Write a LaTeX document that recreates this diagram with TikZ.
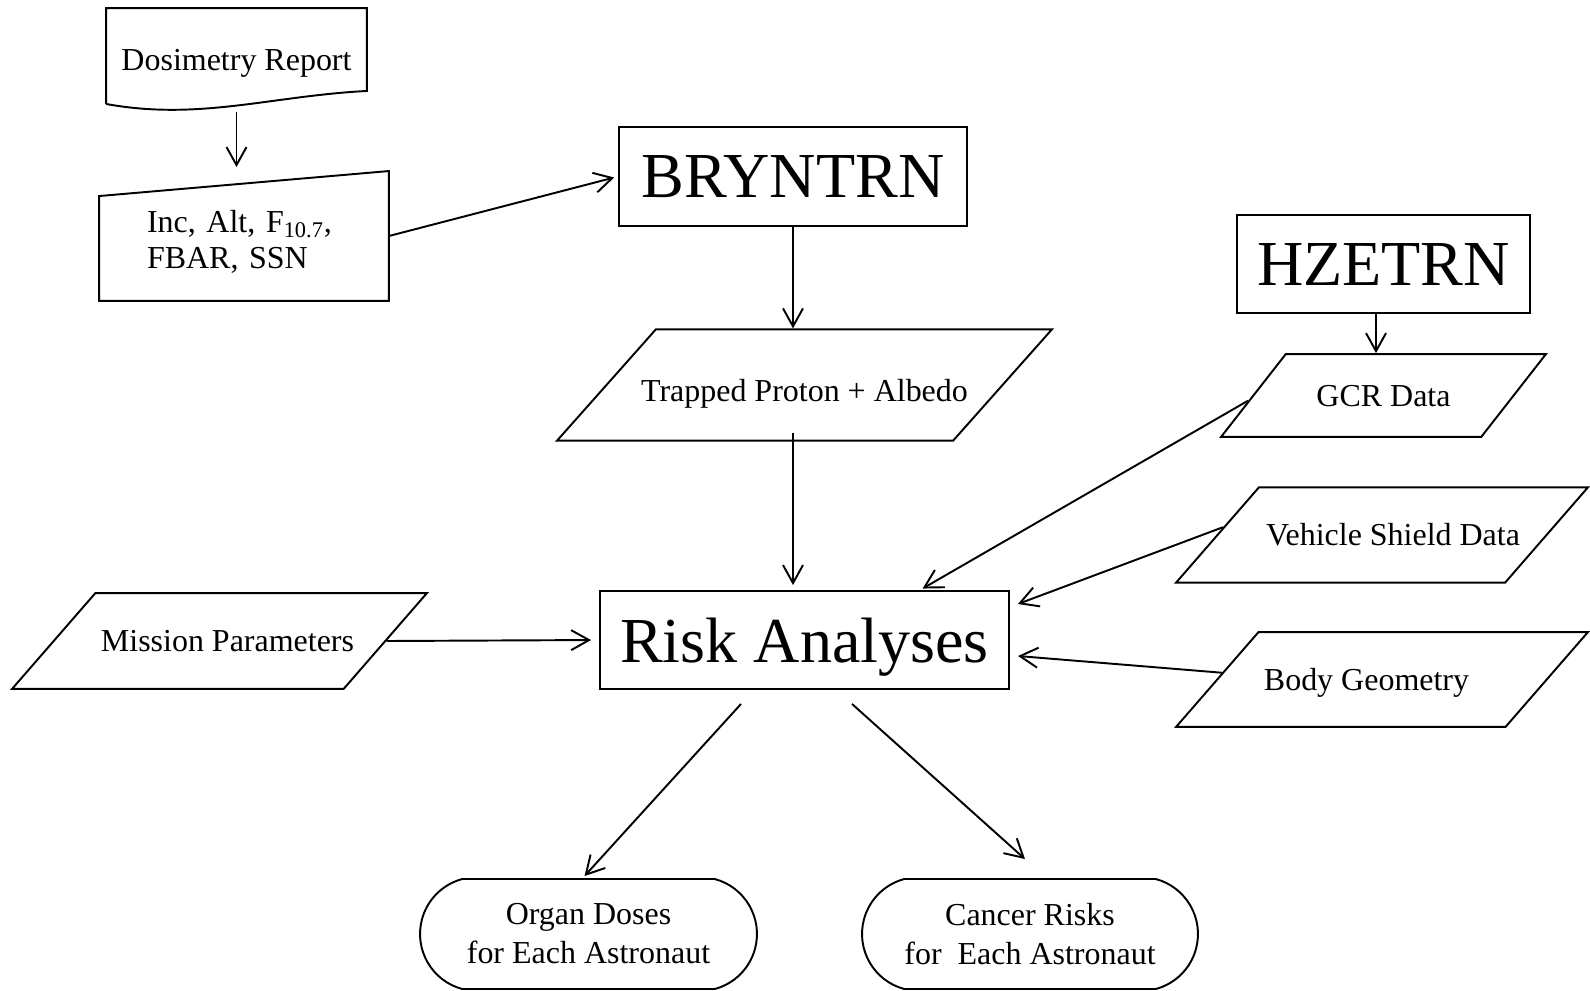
\documentclass[tikz,border=0pt]{standalone}
\usepackage{fontspec}
\setmainfont{Liberation Serif}
\usetikzlibrary{calc,arrows.meta,shapes.geometric,shapes.misc}

\tikzset{
	txt/.style={font=\fontsize{18.2}{20.5}\selectfont},
	prog/.style={draw, rectangle, inner sep=0pt, text depth=0pt, font=\fontsize{36.5}{40}\selectfont},
	data/.style={draw, trapezium, trapezium left angle=49, trapezium right angle=131, trapezium stretches body, inner xsep=-1cm, text height=12pt, text depth=0pt, txt},
	result/.style={draw, rounded rectangle, rounded rectangle arc length=150, inner sep=0pt, align=center, font=\fontsize{18.2}{22.2}\selectfont},
	flow/.style={-{Straight Barb[length=0.36cm,width=0.4cm]}},
}

\begin{document}
\begin{tikzpicture}[x=0.02cm, y=-0.02cm, line width=1.1pt]
	%%%%% START %%%%%
	\useasboundingbox (0,0) rectangle (1590,991);
	
	\node[txt, text height=16.5pt, text depth=0pt, minimum width=5.18cm, minimum height=1.88cm] (dosim) at (236.5,56) {Dosimetry Report};
	\draw (dosim.south west) -- (dosim.north west) -- (dosim.north east) -- ($(dosim.south east)+(0,-13)$) .. controls +(-96,5) and +(93,17) .. (dosim.south west);
	
	\node[txt, text width=3.88cm, inner xsep=0.94cm, text height=15pt, text depth=19pt, minimum height=2.56cm, align=left] (orbit) at (244,236) {Inc,~Alt,~F\textsubscript{10.7},\\FBAR, SSN};
	\draw (orbit.south west) -- (orbit.south east) -- (orbit.north east) -- ($(orbit.north west)+(0,25)$) -- cycle;
	
	\node[prog, minimum width=6.96cm, minimum height=1.98cm] (bryn) at (793,176.5) {BRYNTRN};
	\node[prog, minimum width=5.86cm, minimum height=1.95cm] (hze) at (1383.5,264) {HZETRN};
	\node[prog, minimum width=8.18cm, minimum height=1.96cm] (risk) at (804.5,640) {Risk Analyses};
	
	\node[data, minimum width=9.9cm, text height=18.8pt, inner ysep=0.783cm, trapezium left angle=48.4, trapezium right angle=131.6] (trap) at (804.5,385) {Trapped Proton + Albedo};
	\node[data, minimum width=6.5cm, inner ysep=0.618cm, trapezium left angle=52, trapezium right angle=128] (gcr) at (1383.5,395.5) {GCR Data};
	\node[data, minimum width=8.24cm, inner ysep=0.743cm] (veh) at (1382,535) {\hspace*{0.44cm}Vehicle Shield Data};
	\node[data, minimum width=8.24cm, inner ysep=0.738cm] (body) at (1382,679.5) {Body Geometry\hspace*{0.62cm}};
	\node[data, minimum width=8.3cm, inner ysep=0.748cm] (mis) at (219.5,641) {\hspace*{0.32cm}Mission Parameters};
	
	\node[result, minimum width=6.74cm, minimum height=2.2cm] (organ) at (588.5,934) {Organ Doses\\for Each Astronaut};
	\node[result, minimum width=6.72cm, minimum height=2.2cm] (cancer) at (1030,934) {Cancer Risks\\for~ Each Astronaut};
	
	\draw[flow, shorten <=0.16cm, shorten >=0.08cm] (dosim.south) -- (dosim.south |- orbit.north);
	\draw[flow, shorten >=0.08cm] (orbit.east) -- (bryn.west);
	\draw[flow] (bryn.south) -- (bryn.south |- trap.north);
	\draw[flow, shorten <=-0.18cm, shorten >=0.1cm] (bryn.south |- trap.south) -- (bryn.south |- risk.north);
	\draw[flow] ([xshift=-0.15cm]hze.south) -- ([xshift=-0.15cm]hze.south |- gcr.north);
	
	\draw[flow, shorten >=0.06cm] ($(gcr.bottom left corner)!0.44!(gcr.top left corner)$) -- ($(risk.north)+(115.5,0)$);
	\draw[flow] ($(veh.bottom left corner)!0.58!(veh.top left corner)$) -- ($(risk.east)+(8,-36)$);
	\draw[flow] ($(body.bottom left corner)!0.57!(body.top left corner)$) -- ($(risk.east)+(8,16)$);
	\draw[flow, shorten >=0.16cm] (mis.right side) -- (risk.west);
	
	\draw[flow] ($(risk.south)+(-63.5,14)$) -- ($(organ.north)+(-4,-2)$);
	\draw[flow] ($(risk.south)+(47.5,14)$) -- ($(cancer.north)+(-5,-19)$);
	%%%%% END %%%%%
\end{tikzpicture}
\end{document}
